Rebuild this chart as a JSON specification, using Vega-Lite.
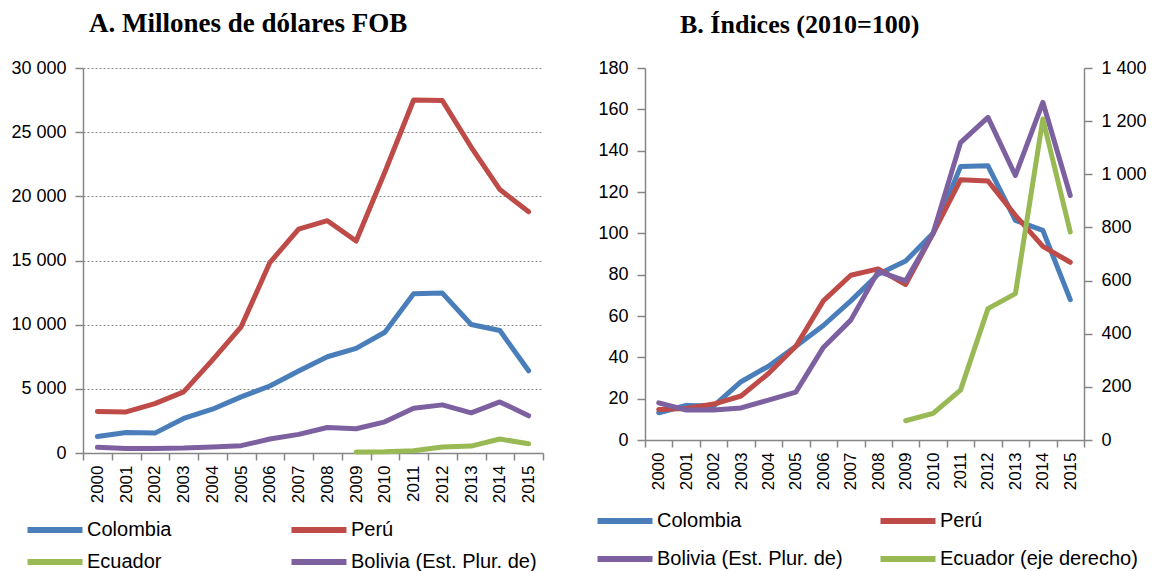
{
  "$schema": "https://vega.github.io/schema/vega-lite/v6.json",
  "background": "white",
  "padding": {"left": 10, "top": 10, "right": 8, "bottom": 0},
  "config": {
    "font": "Liberation Sans",
    "view": {"stroke": null},
    "axis": {"labelFont": "Liberation Sans", "labelColor": "#000000", "domainColor": "#868686", "tickColor": "#868686", "tickSize": 8, "domainWidth": 1.5, "tickWidth": 1.5, "title": null, "labelPadding": 9},
    "title": {"font": "Liberation Serif", "fontWeight": "bold", "fontSize": 26, "color": "#000000", "anchor": "start", "frame": "group", "offset": 21},
    "legend": {"columns": 2, "direction": "horizontal", "symbolType": "M-2,0H2", "symbolSize": 756, "symbolStrokeWidth": 6, "labelFontSize": 20, "labelFont": "Liberation Sans", "labelColor": "#000000", "gridAlign": "all", "labelLimit": 400, "title": null, "labelOffset": 15},
    "concat": {"spacing": 53}
  },
  "datasets": {
    "a": [
      {"year": "2000", "country": "Colombia", "value": 1290},
      {"year": "2001", "country": "Colombia", "value": 1600},
      {"year": "2002", "country": "Colombia", "value": 1550},
      {"year": "2003", "country": "Colombia", "value": 2690},
      {"year": "2004", "country": "Colombia", "value": 3410},
      {"year": "2005", "country": "Colombia", "value": 4370},
      {"year": "2006", "country": "Colombia", "value": 5220},
      {"year": "2007", "country": "Colombia", "value": 6390},
      {"year": "2008", "country": "Colombia", "value": 7500},
      {"year": "2009", "country": "Colombia", "value": 8150},
      {"year": "2010", "country": "Colombia", "value": 9410},
      {"year": "2011", "country": "Colombia", "value": 12410},
      {"year": "2012", "country": "Colombia", "value": 12460},
      {"year": "2013", "country": "Colombia", "value": 10010},
      {"year": "2014", "country": "Colombia", "value": 9540},
      {"year": "2015", "country": "Colombia", "value": 6410},
      {"year": "2000", "country": "Perú", "value": 3230},
      {"year": "2001", "country": "Perú", "value": 3200},
      {"year": "2002", "country": "Perú", "value": 3850},
      {"year": "2003", "country": "Perú", "value": 4760},
      {"year": "2004", "country": "Perú", "value": 7240},
      {"year": "2005", "country": "Perú", "value": 9830},
      {"year": "2006", "country": "Perú", "value": 14840},
      {"year": "2007", "country": "Perú", "value": 17450},
      {"year": "2008", "country": "Perú", "value": 18100},
      {"year": "2009", "country": "Perú", "value": 16520},
      {"year": "2010", "country": "Perú", "value": 21900},
      {"year": "2011", "country": "Perú", "value": 27510},
      {"year": "2012", "country": "Perú", "value": 27460},
      {"year": "2013", "country": "Perú", "value": 23840},
      {"year": "2014", "country": "Perú", "value": 20530},
      {"year": "2015", "country": "Perú", "value": 18800},
      {"year": "2009", "country": "Ecuador", "value": 80},
      {"year": "2010", "country": "Ecuador", "value": 100},
      {"year": "2011", "country": "Ecuador", "value": 180},
      {"year": "2012", "country": "Ecuador", "value": 470},
      {"year": "2013", "country": "Ecuador", "value": 540},
      {"year": "2014", "country": "Ecuador", "value": 1090},
      {"year": "2015", "country": "Ecuador", "value": 720},
      {"year": "2000", "country": "Bolivia (Est. Plur. de)", "value": 440},
      {"year": "2001", "country": "Bolivia (Est. Plur. de)", "value": 360},
      {"year": "2002", "country": "Bolivia (Est. Plur. de)", "value": 360},
      {"year": "2003", "country": "Bolivia (Est. Plur. de)", "value": 390},
      {"year": "2004", "country": "Bolivia (Est. Plur. de)", "value": 470},
      {"year": "2005", "country": "Bolivia (Est. Plur. de)", "value": 570},
      {"year": "2006", "country": "Bolivia (Est. Plur. de)", "value": 1090},
      {"year": "2007", "country": "Bolivia (Est. Plur. de)", "value": 1450},
      {"year": "2008", "country": "Bolivia (Est. Plur. de)", "value": 1990},
      {"year": "2009", "country": "Bolivia (Est. Plur. de)", "value": 1890},
      {"year": "2010", "country": "Bolivia (Est. Plur. de)", "value": 2430},
      {"year": "2011", "country": "Bolivia (Est. Plur. de)", "value": 3490},
      {"year": "2012", "country": "Bolivia (Est. Plur. de)", "value": 3750},
      {"year": "2013", "country": "Bolivia (Est. Plur. de)", "value": 3130},
      {"year": "2014", "country": "Bolivia (Est. Plur. de)", "value": 3980},
      {"year": "2015", "country": "Bolivia (Est. Plur. de)", "value": 2900}
    ],
    "b": [
      {"year": "2000", "country": "Colombia", "value": 13.2},
      {"year": "2001", "country": "Colombia", "value": 16.7},
      {"year": "2002", "country": "Colombia", "value": 16.4},
      {"year": "2003", "country": "Colombia", "value": 28.2},
      {"year": "2004", "country": "Colombia", "value": 35.7},
      {"year": "2005", "country": "Colombia", "value": 45.4},
      {"year": "2006", "country": "Colombia", "value": 55.4},
      {"year": "2007", "country": "Colombia", "value": 67.3},
      {"year": "2008", "country": "Colombia", "value": 80.2},
      {"year": "2009", "country": "Colombia", "value": 86.6},
      {"year": "2010", "country": "Colombia", "value": 100},
      {"year": "2011", "country": "Colombia", "value": 132.3},
      {"year": "2012", "country": "Colombia", "value": 132.7},
      {"year": "2013", "country": "Colombia", "value": 106.3},
      {"year": "2014", "country": "Colombia", "value": 101.4},
      {"year": "2015", "country": "Colombia", "value": 67.9},
      {"year": "2000", "country": "Perú", "value": 14.8},
      {"year": "2001", "country": "Perú", "value": 15.3},
      {"year": "2002", "country": "Perú", "value": 17.4},
      {"year": "2003", "country": "Perú", "value": 21.3},
      {"year": "2004", "country": "Perú", "value": 32.2},
      {"year": "2005", "country": "Perú", "value": 45.4},
      {"year": "2006", "country": "Perú", "value": 67.3},
      {"year": "2007", "country": "Perú", "value": 79.7},
      {"year": "2008", "country": "Perú", "value": 82.8},
      {"year": "2009", "country": "Perú", "value": 75.2},
      {"year": "2010", "country": "Perú", "value": 100},
      {"year": "2011", "country": "Perú", "value": 125.9},
      {"year": "2012", "country": "Perú", "value": 125.3},
      {"year": "2013", "country": "Perú", "value": 108.7},
      {"year": "2014", "country": "Perú", "value": 93.7},
      {"year": "2015", "country": "Perú", "value": 86},
      {"year": "2000", "country": "Bolivia (Est. Plur. de)", "value": 18},
      {"year": "2001", "country": "Bolivia (Est. Plur. de)", "value": 14.5},
      {"year": "2002", "country": "Bolivia (Est. Plur. de)", "value": 14.5},
      {"year": "2003", "country": "Bolivia (Est. Plur. de)", "value": 15.5},
      {"year": "2004", "country": "Bolivia (Est. Plur. de)", "value": 19.3},
      {"year": "2005", "country": "Bolivia (Est. Plur. de)", "value": 23.2},
      {"year": "2006", "country": "Bolivia (Est. Plur. de)", "value": 44.8},
      {"year": "2007", "country": "Bolivia (Est. Plur. de)", "value": 58},
      {"year": "2008", "country": "Bolivia (Est. Plur. de)", "value": 81.6},
      {"year": "2009", "country": "Bolivia (Est. Plur. de)", "value": 77},
      {"year": "2010", "country": "Bolivia (Est. Plur. de)", "value": 100},
      {"year": "2011", "country": "Bolivia (Est. Plur. de)", "value": 143.9},
      {"year": "2012", "country": "Bolivia (Est. Plur. de)", "value": 156.1},
      {"year": "2013", "country": "Bolivia (Est. Plur. de)", "value": 128},
      {"year": "2014", "country": "Bolivia (Est. Plur. de)", "value": 163.4},
      {"year": "2015", "country": "Bolivia (Est. Plur. de)", "value": 118.3},
      {"year": "2009", "country": "Ecuador (eje derecho)", "value": 72.6},
      {"year": "2010", "country": "Ecuador (eje derecho)", "value": 100},
      {"year": "2011", "country": "Ecuador (eje derecho)", "value": 187.8},
      {"year": "2012", "country": "Ecuador (eje derecho)", "value": 494.6},
      {"year": "2013", "country": "Ecuador (eje derecho)", "value": 551},
      {"year": "2014", "country": "Ecuador (eje derecho)", "value": 1208},
      {"year": "2015", "country": "Ecuador (eje derecho)", "value": 782.6}
    ]
  },
  "resolve": {"scale": {"color": "independent"}, "legend": {"color": "independent"}},
  "hconcat": [
    {
      "width": 460,
      "height": 385,
      "title": {"text": "A. Millones de dólares FOB", "dx": 6, "fontSize": 27},
      "data": {"name": "a"},
      "mark": {"type": "line", "strokeWidth": 5, "strokeCap": "round", "strokeJoin": "round"},
      "encoding": {
        "x": {"field": "year", "type": "ordinal", "scale": {"type": "band", "paddingInner": 0, "paddingOuter": 0},
              "axis": {"labelAngle": -90, "tickBand": "extent", "labelFontSize": 17, "labelPadding": 5, "tickSize": 7}},
        "y": {"field": "value", "type": "quantitative", "scale": {"domain": [0, 30000]},
              "axis": {"values": [0, 5000, 10000, 15000, 20000, 25000, 30000], "labelExpr": "replace(format(datum.value, ','), ',', ' ')", "grid": true, "gridDash": [2, 2], "gridColor": "#8a8a8a", "gridWidth": 1, "labelFontSize": 18}},
        "color": {"field": "country", "type": "nominal",
                  "scale": {"domain": ["Colombia", "Perú", "Ecuador", "Bolivia (Est. Plur. de)"], "range": ["#4A7EBB", "#BE4B48", "#98B954", "#7D60A0"]},
                  "legend": {"orient": "none", "legendX": -45, "legendY": 445, "columnPadding": 6, "rowPadding": 3}}
      }
    },
    {
      "width": 439,
      "height": 372,
      "title": {"text": "B. Índices (2010=100)", "dx": 35},
      "data": {"name": "b"},
      "encoding": {
        "x": {"field": "year", "type": "ordinal", "scale": {"type": "band", "paddingInner": 0, "paddingOuter": 0},
              "axis": {"labelAngle": -90, "tickBand": "extent", "labelFontSize": 17, "labelPadding": 5, "tickSize": 7}},
        "color": {"field": "country", "type": "nominal",
                  "scale": {"domain": ["Colombia", "Perú", "Bolivia (Est. Plur. de)", "Ecuador (eje derecho)"], "range": ["#4A7EBB", "#BE4B48", "#7D60A0", "#98B954"]},
                  "legend": {"orient": "none", "legendX": -37, "legendY": 436, "columnPadding": 13, "rowPadding": 9}}
      },
      "layer": [
        {
          "transform": [{"filter": "datum.country !== 'Ecuador (eje derecho)'"}],
          "mark": {"type": "line", "strokeWidth": 5, "strokeCap": "round", "strokeJoin": "round"},
          "encoding": {
            "y": {"field": "value", "type": "quantitative", "scale": {"domain": [0, 180]},
                  "axis": {"orient": "left", "values": [0, 20, 40, 60, 80, 100, 120, 140, 160, 180], "grid": false, "labelFontSize": 18}}
          }
        },
        {
          "transform": [{"filter": "datum.country === 'Ecuador (eje derecho)'"}],
          "mark": {"type": "line", "strokeWidth": 5, "strokeCap": "round", "strokeJoin": "round"},
          "encoding": {
            "y": {"field": "value", "type": "quantitative", "scale": {"domain": [0, 1400]},
                  "axis": {"orient": "right", "values": [0, 200, 400, 600, 800, 1000, 1200, 1400], "labelExpr": "replace(format(datum.value, ','), ',', ' ')", "grid": false, "labelFontSize": 18}}
          }
        }
      ],
      "resolve": {"scale": {"y": "independent"}}
    }
  ]
}
